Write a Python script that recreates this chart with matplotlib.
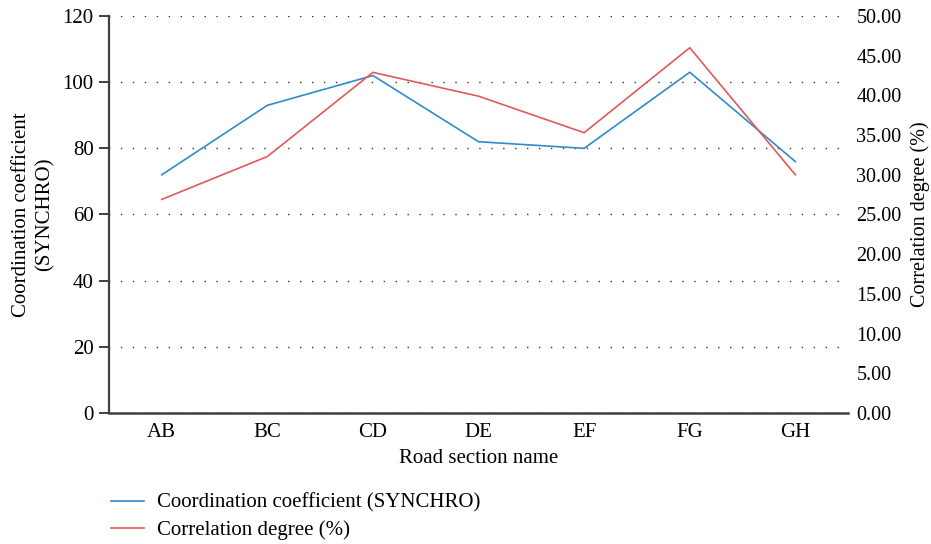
import numpy as np
import matplotlib
matplotlib.use("Agg")
import matplotlib.pyplot as plt

plt.rcParams['font.family'] = ['Liberation Serif', 'DejaVu Serif']

# dados
trechos = ["AB", "BC", "CD", "DE", "EF", "FG", "GH"]
coef_coordenacao = [72, 93, 102, 82, 80, 103, 76]
grau_correlacao = [26.9, 32.3, 42.9, 39.9, 35.3, 46.0, 30.0]

cor_azul = "#2f8bcc"
cor_verm = "#e05a5a"
fs = 15

fig = plt.figure(figsize=(9.31, 5.44), dpi=100)
ax = fig.add_axes([0.117, 0.2408, 0.794, 0.7298])
ax2 = ax.twinx()

x = np.arange(len(trechos))
l1, = ax.plot(x, coef_coordenacao, color=cor_azul, lw=1.2,
              label="Coordination coefficient (SYNCHRO)")
l2, = ax2.plot(x, grau_correlacao, color=cor_verm, lw=1.2,
               label="Correlation degree (%)")

ax.set_xlim(-0.5, len(trechos) - 0.5)
ax.set_ylim(0, 120)
ax.set_yticks(np.arange(0, 121, 20))
ax2.set_ylim(0, 50)
ax2.set_yticks(np.arange(0, 50.1, 5))
ax2.set_yticklabels([f"{v:.2f}" for v in np.arange(0, 50.1, 5)])

ax.set_xticks(x)
ax.set_xticklabels(trechos)
ax.grid(axis='y', linestyle=(9, (1, 7.6)), color='#333333', lw=1.0)

for s in ["top", "right"]:
    ax.spines[s].set_visible(False)
for s in ["top", "right", "left", "bottom"]:
    ax2.spines[s].set_visible(False)
ax.spines["left"].set_color("#404040")
ax.spines["left"].set_linewidth(1.6)
ax.spines["bottom"].set_color("#404040")
ax.spines["bottom"].set_linewidth(1.8)

ax.tick_params(axis='y', length=7, width=1.4, color='#404040', labelsize=fs, pad=4)
ax.tick_params(axis='x', length=0, labelsize=fs, pad=7)
ax2.tick_params(axis='y', length=0, labelsize=14.5, pad=6)

ax.set_xlabel("Road section name", fontsize=fs, labelpad=5)
ax.set_ylabel("Coordination coefficient\n(SYNCHRO)", fontsize=fs, labelpad=6,
              linespacing=1.25)
ax2.set_ylabel("Correlation degree (%)", fontsize=14.5, rotation=90)
ax2.yaxis.set_label_coords(1.084, 0.5)

fig.legend(handles=[l1, l2], loc="lower left", bbox_to_anchor=(0.099, -0.027),
           frameon=False, fontsize=fs, handlelength=1.6, handletextpad=0.62,
           labelspacing=0.35)

fig.savefig("out.png", dpi=100)
